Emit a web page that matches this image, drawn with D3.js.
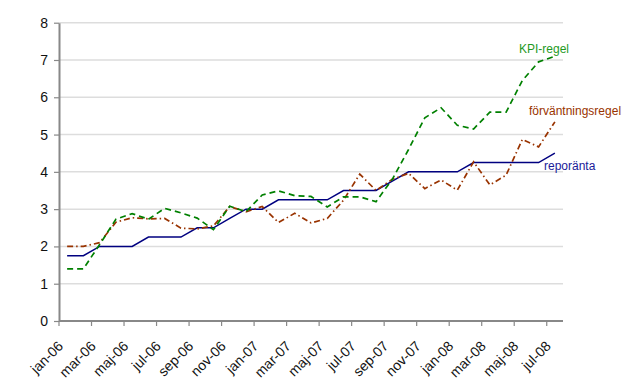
<!DOCTYPE html>
<html>
<head>
<meta charset="utf-8">
<script src="https://cdn.jsdelivr.net/npm/d3@7"></script>
<style>
  body { margin: 0; background: #fff; }
  text { font-family: "Liberation Sans", Arial, sans-serif; }
</style>
</head>
<body>
<svg id="chart" width="640" height="391"></svg>
<script>
// months on the category axis
var months = [
  "jan-06","feb-06","mar-06","apr-06","maj-06","jun-06","jul-06","aug-06","sep-06","okt-06","nov-06","dec-06",
  "jan-07","feb-07","mar-07","apr-07","maj-07","jun-07","jul-07","aug-07","sep-07","okt-07","nov-07","dec-07",
  "jan-08","feb-08","mar-08","apr-08","maj-08","jun-08","jul-08"
];

var reporanta = [1.75,1.75,2.0,2.0,2.0,2.25,2.25,2.25,2.5,2.5,2.75,3.0,3.0,3.25,3.25,3.25,3.25,3.5,3.5,3.5,3.75,4.0,4.0,4.0,4.0,4.25,4.25,4.25,4.25,4.25,4.5];
var kpiRegel = [1.4,1.4,2.05,2.73,2.88,2.73,3.02,2.9,2.76,2.45,3.08,2.93,3.38,3.49,3.36,3.34,3.06,3.33,3.33,3.2,3.8,4.6,5.45,5.72,5.25,5.15,5.6,5.6,6.45,6.95,7.1];
var forvRegel = [2.0,2.0,2.1,2.65,2.77,2.74,2.75,2.49,2.47,2.55,3.07,2.93,3.07,2.64,2.89,2.63,2.75,3.24,3.94,3.5,3.8,3.96,3.55,3.78,3.51,4.27,3.65,3.91,4.87,4.67,5.34];

var yTicks = [0,1,2,3,4,5,6,7,8];

var series = [
  {name: "reporänta", values: reporanta, color: "#000080", text: "#1a1a99", dash: null, width: 1.5, lx: 544, ly: 170},
  {name: "förväntningsregel", values: forvRegel, color: "#993300", text: "#993300", dash: "6,3,1.5,3", width: 1.7, lx: 529, ly: 115},
  {name: "KPI-regel", values: kpiRegel, color: "#008000", text: "#1f9a1f", dash: "6,4", width: 1.7, lx: 519, ly: 53}
];

var svg = d3.select("#chart");
var MARGINS = {top: 22.7, right: 77, bottom: 70, left: 59};
var WIDTH = 640, HEIGHT = 391;

var x = d3.scaleBand().domain(months).range([MARGINS.left, WIDTH - MARGINS.right]).padding(0);
var y = d3.scaleLinear().domain([0, 8]).range([HEIGHT - MARGINS.bottom, MARGINS.top]);

// gridlines
svg.append("g")
  .selectAll("line")
  .data(yTicks.filter(function (d) { return d > 0; }))
  .enter().append("line")
  .attr("x1", MARGINS.left)
  .attr("x2", WIDTH - MARGINS.right)
  .attr("y1", function (d) { return y(d); })
  .attr("y2", function (d) { return y(d); })
  .attr("stroke", "#dddddd")
  .attr("stroke-width", 1.5);

// y axis
var yAxis = d3.axisLeft(y).tickValues(yTicks).tickSize(5).tickSizeOuter(0).tickPadding(6);
var gy = svg.append("g")
  .attr("transform", "translate(" + MARGINS.left + ",0)")
  .call(yAxis);
gy.select(".domain").attr("stroke", "#888").attr("stroke-width", 2);
gy.selectAll(".tick line").attr("stroke", "#888").attr("stroke-width", 1.2);
gy.selectAll(".tick text").attr("font-size", 14).attr("fill", "#111");

// x axis: ticks on every other month boundary
var evenMonths = months.filter(function (d, i) { return i % 2 === 0; });
var gx = svg.append("g").attr("transform", "translate(0," + y(0) + ")");
gx.append("line")
  .attr("x1", MARGINS.left).attr("x2", WIDTH - MARGINS.right)
  .attr("stroke", "#888").attr("stroke-width", 2);
gx.selectAll(".xt")
  .data(evenMonths)
  .enter().append("line")
  .attr("class", "xt")
  .attr("x1", function (d) { return x(d); })
  .attr("x2", function (d) { return x(d); })
  .attr("y1", 0).attr("y2", 5)
  .attr("stroke", "#888").attr("stroke-width", 1.2);
gx.selectAll(".xl")
  .data(evenMonths)
  .enter().append("text")
  .attr("class", "xl")
  .attr("text-anchor", "end")
  .attr("font-size", 14)
  .attr("fill", "#111")
  .attr("transform", function (d) {
    return "translate(" + (x(d) + x.bandwidth() / 2 - 3) + ",26) rotate(-45)";
  })
  .text(function (d) { return d; });

// lines
var lineFunc = d3.line()
  .x(function (d, i) { return x(months[i]) + x.bandwidth() / 2; })
  .y(function (d) { return y(d); });

series.forEach(function (s) {
  svg.append("path")
    .attr("d", lineFunc(s.values))
    .attr("fill", "none")
    .attr("stroke", s.color)
    .attr("stroke-width", s.width)
    .attr("stroke-dasharray", s.dash);
  svg.append("text")
    .attr("x", s.lx)
    .attr("y", s.ly)
    .attr("font-size", 12)
    .attr("fill", s.text)
    .text(s.name);
});
</script>
</body>
</html>
